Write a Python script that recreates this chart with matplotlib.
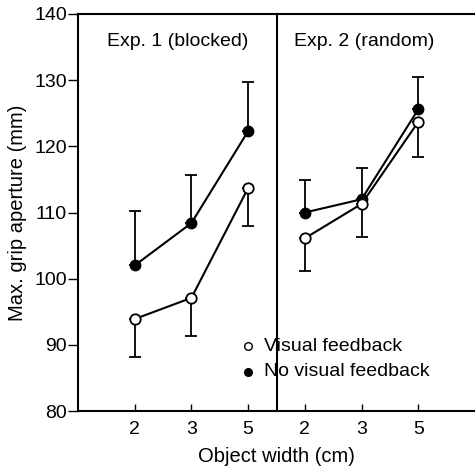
import numpy as np
import matplotlib.pyplot as plt

plt.rcParams['font.family'] = ['Liberation Sans', 'DejaVu Sans']

# object widths (cm) and plotting slots for the two experiments
widths = ['2', '3', '5', '2', '3', '5']
exp1_pos = [1, 2, 3]
exp2_pos = [4, 5, 6]

# Exp. 1 (blocked)
exp1_vis = [93.9, 97.1, 113.7]
exp1_vis_err = [5.8, 5.7, 5.8]
exp1_novis = [102.0, 108.4, 122.3]
exp1_novis_err = [8.3, 7.3, 7.4]

# Exp. 2 (random)
exp2_vis = [106.1, 111.3, 123.7]
exp2_vis_err = [5.0, 5.0, 5.3]
exp2_novis = [110.0, 112.0, 125.6]
exp2_novis_err = [4.9, 4.7, 4.9]

fig = plt.figure(figsize=(4.75, 4.71), dpi=100)
ax = fig.add_axes([78 / 475, 60 / 471, 397 / 475, 397 / 471])

for pos, vis, verr, novis, nerr in [(exp1_pos, exp1_vis, exp1_vis_err, exp1_novis, exp1_novis_err),
                                    (exp2_pos, exp2_vis, exp2_vis_err, exp2_novis, exp2_novis_err)]:
    ax.errorbar(pos, novis, yerr=[np.zeros(3), nerr], color='black', lw=1.5,
                capsize=4, elinewidth=1.3, capthick=1.3, marker='o', ms=7.5,
                mfc='black', mec='black', zorder=3)
    ax.errorbar(pos, vis, yerr=[verr, np.zeros(3)], color='black', lw=1.5,
                capsize=4, elinewidth=1.3, capthick=1.3, marker='o', ms=7.5,
                mfc='white', mec='black', mew=1.3, zorder=4)

ax.axvline(3.5, color='black', lw=1.5)

ax.set_xlim(0, 7)
ax.set_ylim(80, 140)
ax.set_yticks([80, 90, 100, 110, 120, 130, 140])
ax.set_xticks(exp1_pos + exp2_pos)
ax.set_xticklabels(widths)
ax.tick_params(axis='y', direction='out', length=7, width=1, labelsize=14, pad=1)
ax.tick_params(axis='x', direction='in', length=5, width=1, labelsize=14, pad=7)
for s in ['left', 'bottom', 'top']:
    ax.spines[s].set_linewidth(1.5)
ax.spines['right'].set_visible(False)

ax.text(1.76, 135.8, 'Exp. 1 (blocked)', ha='center', va='center', fontsize=14)
ax.text(5.05, 135.8, 'Exp. 2 (random)', ha='center', va='center', fontsize=14)

# legend
ax.plot([3.0], [89.8], 'o', ms=5.5, mfc='white', mec='black', mew=1)
ax.plot([3.0], [85.9], 'o', ms=5.5, mfc='black', mec='black')
ax.text(3.28, 89.8, 'Visual feedback', va='center', fontsize=14)
ax.text(3.28, 85.9, 'No visual feedback', va='center', fontsize=14)

ax.set_xlabel('Object width (cm)', fontsize=14.5, labelpad=7)
ax.set_ylabel('Max. grip aperture (mm)', fontsize=14.5, labelpad=5)

fig.savefig('out.png', dpi=100)
